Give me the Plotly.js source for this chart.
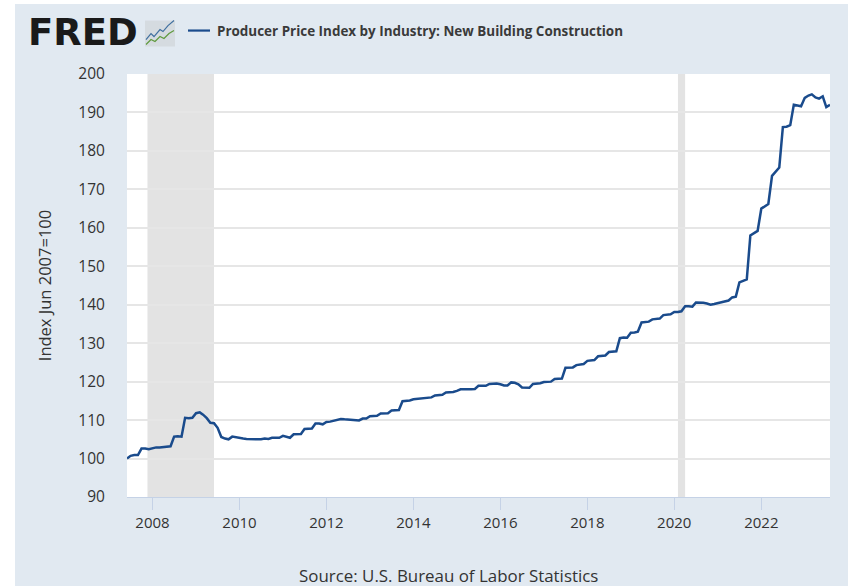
<!DOCTYPE html>
<html>
<head>
<meta charset="utf-8">
<script src="https://cdn.plot.ly/plotly-3.0.1.min.js"></script>
<style>
html,body{margin:0;padding:0;background:#fff;overflow:hidden;width:848px;height:586px}
#chart{position:absolute;left:15px;top:4px;width:833px;height:582px}
</style>
</head>
<body>
<div id="chart"></div>
<script>
var seriesName = "Producer Price Index by Industry: New Building Construction";
var yTitle = "Index Jun 2007=100";
var sourceText = "Source: U.S. Bureau of Labor Statistics";
var v2007 = [100,100.7,100.9,100.9,102.6,102.6,102.4];
var v2008 = [102.7,102.9,102.9,103.0,103.2,103.2,105.7,105.8,105.7,110.6,110.5,110.6];
var v2009 = [111.8,112.0,111.4,110.5,109.3,109.2,108.0,105.6,105.2,105.0,105.7,105.5];
var v2010 = [105.3,105.2,105.1,105.1,105.0,105.0,105.0,105.2,105.1,105.4,105.4,105.4];
var v2011 = [105.9,105.6,105.4,106.3,106.4,106.4,107.7,107.8,107.8,109.1,109.1,108.9];
var v2012 = [109.5,109.6,109.8,110.1,110.3,110.2,110.1,110.1,110.0,109.9,110.4,110.4];
var v2013 = [111.0,111.1,111.1,111.7,111.8,111.8,112.5,112.6,112.6,114.9,115.0,115.1];
var v2014 = [115.4,115.5,115.7,115.8,115.8,115.9,116.4,116.5,116.6,117.2,117.2,117.3];
var v2015 = [117.6,118.0,118.0,117.9,118.0,118.1,118.9,118.9,118.9,119.4,119.5,119.5];
var v2016 = [119.3,119.0,119.0,119.8,119.7,119.3,118.5,118.4,118.4,119.4,119.5,119.6];
var v2017 = [119.9,120.0,120.0,120.7,120.8,120.8,123.6,123.7,123.7,124.3,124.4,124.6];
var v2018 = [125.4,125.5,125.6,126.6,126.7,126.8,127.7,127.8,127.9,131.3,131.5,131.4];
var v2019 = [132.7,132.8,133.0,135.4,135.5,135.6,136.2,136.3,136.4,137.3,137.4,137.5];
var v2020 = [138.1,138.1,138.3,139.6,139.6,139.5,140.6,140.6,140.5,140.3,140.0,140.2];
var v2021 = [140.4,140.6,140.9,141.1,141.9,142.1,145.8,146.3,146.6,158.0,158.6,159.2];
var v2022 = [165.0,165.7,166.2,173.5,174.6,175.7,186.2,186.3,186.7,192.0,191.8,191.6];
var v2023 = [193.8,194.4,194.7,193.9,193.6,194.2,191.4,192.0];
var recessionStart = ["2007-11-20","2020-02-01"];
var recessionEnd = ["2009-06-01","2020-04-01"];
var values = [].concat(v2007,v2008,v2009,v2010,v2011,v2012,v2013,v2014,v2015,v2016,v2017,v2018,v2019,v2020,v2021,v2022,v2023);

var dates = values.map(function(_, i){
  var m = 5 + i, y = 2007 + Math.floor(m/12), mm = m % 12 + 1;
  return y + "-" + (mm < 10 ? "0" : "") + mm + "-01";
});

// page-pixel helpers for the decoration above the plot
var L=15,T=4,M={l:112,r:18,t:69.5,b:89},W=833,H=582;
function px(x){return (x-L-M.l)/(W-M.l-M.r);}
function py(y){return 1-(y-T-M.t)/(H-M.t-M.b);}
function pathOf(pts){return pts.map(function(p,i){return (i?"L":"M")+px(p[0])+","+py(p[1]);}).join(" ");}

var shapes = recessionStart.map(function(s,i){
  return {type:"rect",xref:"x",yref:"paper",x0:s,x1:recessionEnd[i],y0:0,y1:1,fillcolor:"#e3e3e3",line:{width:0},layer:"below"};
});
// legend key
shapes.push({type:"line",xref:"paper",yref:"paper",x0:px(188),x1:px(210),y0:py(30),y1:py(30),line:{color:"#1a4b8c",width:2.2}});
// logo icon
shapes.push({type:"rect",xref:"paper",yref:"paper",x0:px(145),x1:px(175),y0:py(20),y1:py(46),fillcolor:"#d5dbe0",line:{width:0}});
shapes.push({type:"path",xref:"paper",yref:"paper",path:pathOf([[146,39],[151,33],[154,36],[160,29],[163,31],[168,25],[174,20]]),line:{color:"#3f6f9f",width:1.2}});
shapes.push({type:"path",xref:"paper",yref:"paper",path:pathOf([[146,44],[151,39],[155,41],[160,36],[164,38],[169,33],[174,30]]),line:{color:"#5f9a3e",width:1.2}});

var font = "'Open Sans', 'Noto Sans', sans-serif";
var data = [{type:"scatter",mode:"lines",x:dates,y:values,name:seriesName,line:{color:"#1a4b8c",width:2.5},hoverinfo:"x+y"}];
var layout = {
  width:W,height:H,
  margin:M,
  paper_bgcolor:"#e1e9f1",plot_bgcolor:"#ffffff",
  showlegend:false,
  font:{family:font,color:"#333333",size:14},
  xaxis:{type:"date",range:["2007-06-01","2023-08-01"],tick0:"2008-01-01",dtick:"M24",tickformat:"%Y",
    ticks:"outside",ticklen:12,tickwidth:1,tickcolor:"#c5d2e6",showline:true,linecolor:"#c5d2e6",linewidth:1,
    showgrid:false,zeroline:false,tickfont:{size:15,color:"#333333"}},
  yaxis:{range:[90,200],tick0:90,dtick:10,showgrid:true,gridcolor:"#e6e6e6",gridwidth:1.5,zeroline:false,
    ticks:"outside",ticklen:18,tickcolor:"rgba(0,0,0,0)",showline:false,tickfont:{size:15.5,color:"#333333"},
    title:{text:yTitle,standoff:22,font:{size:16.5,color:"#333333"}}},
  shapes:shapes,
  annotations:[
    {xref:"paper",yref:"paper",x:px(26),y:py(32),xanchor:"left",yanchor:"middle",showarrow:false,text:"<b>FRED</b>",
     font:{family:"'DejaVu Sans', sans-serif",size:37,color:"#1a1a1a"}},
    {xref:"paper",yref:"paper",x:px(215),y:py(30),xanchor:"left",yanchor:"middle",showarrow:false,text:"<b>"+seriesName+"</b>",
     font:{family:font,size:13.45,color:"#3a3a3a"}},
    {xref:"paper",yref:"paper",x:px(448),y:py(576),xanchor:"center",yanchor:"middle",showarrow:false,text:sourceText,
     font:{family:font,size:16.9,color:"#333333"}}
  ]
};
Plotly.newPlot("chart",data,layout,{displayModeBar:false,responsive:false});
</script>
</body>
</html>
